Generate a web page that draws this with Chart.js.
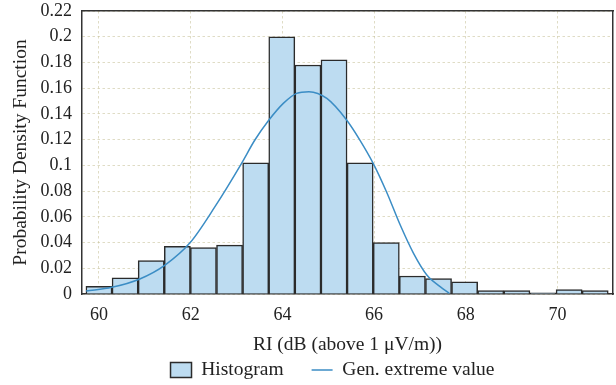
<!DOCTYPE html>
<html><head><meta charset="utf-8">
<script src="https://cdn.jsdelivr.net/npm/chart.js@4.4.1/dist/chart.umd.min.js"></script>
<style>html,body{margin:0;padding:0;background:#fff}canvas{display:block}</style>
</head><body>
<canvas id="c" width="616" height="385"></canvas>
<script>
// ---- data ----
const binCenters = [60.000, 60.570, 61.139, 61.709, 62.278, 62.848, 63.418, 63.987, 64.557, 65.126,
                    65.696, 66.266, 66.835, 67.405, 67.974, 68.544, 69.114, 69.683, 70.253, 70.822];
const histogramDensity = [0.006, 0.0125, 0.026, 0.037, 0.036, 0.038, 0.102, 0.200, 0.178, 0.182,
                          0.102, 0.040, 0.014, 0.012, 0.0095, 0.0026, 0.0026, 0.001, 0.0034, 0.0026];
const fitX = [59.72, 60.28, 60.89, 61.44, 61.99, 62.53, 63.11, 63.40, 63.69, 64.02, 64.31,
              64.58, 64.97, 65.40, 65.69, 65.98, 66.27, 66.57, 66.86, 67.15, 67.44, 67.64];
const fitY = [0.0023, 0.0052, 0.0117, 0.0225, 0.040, 0.0679, 0.1016, 0.1197, 0.1345, 0.1482, 0.1560,
              0.1573, 0.1520, 0.1353, 0.1197, 0.1016, 0.0795, 0.0536, 0.0316, 0.0148, 0.0057, 0.0005];
const xTickValues = [60, 62, 64, 66, 68, 70];
const yTickValues = [0, 0.02, 0.04, 0.06, 0.08, 0.1, 0.12, 0.14, 0.16, 0.18, 0.2, 0.22];
const seriesNames = ['Histogram', 'Gen. extreme value'];
const xTitle = 'RI (dB (above 1 \u03bcV/m))';
const yTitle = 'Probability Density Function';

// ---- styling ----
const FONT = "'Liberation Serif', 'Times New Roman', serif";
const TEXT = '#222';
const GRID = 'rgba(196,192,150,0.55)';
const AXIS = '#333';

const legendShift = {
  id: 'legendShift',
  afterLayout(chart) {
    const lg = chart.legend;
    if (lg) { lg.left += 26; lg.right += 26; }
  }
};

new Chart(document.getElementById('c'), {
  data: {
    datasets: [
      {
        type: 'line',
        label: seriesNames[1],
        data: fitX.map((x, i) => ({x, y: fitY[i]})),
        borderColor: '#3b8dc5',
        borderWidth: 1.5,
        pointRadius: 0,
        pointHoverRadius: 0,
        pointStyle: 'line',
        pointBorderColor: '#3b8dc5',
        pointBorderWidth: 1.5,
        cubicInterpolationMode: 'monotone',
        fill: false
      },
      {
        type: 'bar',
        label: seriesNames[0],
        data: binCenters.map((x, i) => ({x, y: histogramDensity[i]})),
        backgroundColor: '#bddcf1',
        borderColor: '#2b2b2b',
        borderWidth: 1.5,
        barPercentage: 1,
        categoryPercentage: 1,
        pointStyle: 'rect'
      }
    ]
  },
  options: {
    responsive: false,
    devicePixelRatio: 1,
    animation: false,
    layout: { padding: { left: 0, right: 3, top: 11, bottom: -4.75 } },
    plugins: {
      tooltip: { enabled: false },
      legend: {
        position: 'bottom',
        reverse: true,
        labels: {
          usePointStyle: true,
          pointStyleWidth: 21,
          boxHeight: 15,
          padding: 28,
          color: TEXT,
          font: { family: FONT, size: 19.5 }
        }
      }
    },
    scales: {
      x: {
        type: 'linear',
        position: 'bottom',
        offset: false,
        min: 59.63,
        max: 71.21,
        afterBuildTicks: (s) => { s.ticks = xTickValues.map(v => ({value: v})); },
        afterFit: (s) => { s.height = 38.25; },
        ticks: { color: TEXT, padding: 10, font: { family: FONT, size: 18 }, maxRotation: 0,
                 callback: (v) => String(v) },
        grid: { color: GRID, lineWidth: 1, drawTicks: false, offset: false },
        border: { display: true, color: AXIS, width: 1.5, dash: [2.5, 2.5] },
        title: { display: true, text: xTitle, color: TEXT,
                 font: { family: FONT, size: 19.5, lineHeight: 1 }, padding: { top: 0, bottom: -22 } }
      },
      y: {
        type: 'linear',
        position: 'left',
        min: 0,
        max: 0.22,
        afterBuildTicks: (s) => { s.ticks = yTickValues.map(v => ({value: v})); },
        afterFit: (s) => { s.width = 82; },
        ticks: { color: TEXT, padding: 10, font: { family: FONT, size: 18, lineHeight: 0.05 },
                 callback: (v) => String(Number(v.toFixed(2))) },
        grid: { color: GRID, lineWidth: 1, drawTicks: false },
        border: { display: true, color: AXIS, width: 1.5, dash: [2.5, 2.5] },
        title: { display: true, text: yTitle, color: TEXT,
                 font: { family: FONT, size: 19.5, lineHeight: 1 }, padding: { top: 11.25, bottom: 0 } }
      },
      xTop: {
        type: 'linear', position: 'top', offset: false, min: 59.63, max: 71.21,
        ticks: { display: false }, grid: { display: false, drawTicks: false },
        border: { display: true, color: AXIS, width: 1.5 }
      },
      yRight: {
        type: 'linear', position: 'right', min: 0, max: 0.22,
        ticks: { display: false }, grid: { display: false, drawTicks: false },
        border: { display: true, color: AXIS, width: 1.5 }
      }
    }
  },
  plugins: [legendShift]
});
</script>
</body></html>
